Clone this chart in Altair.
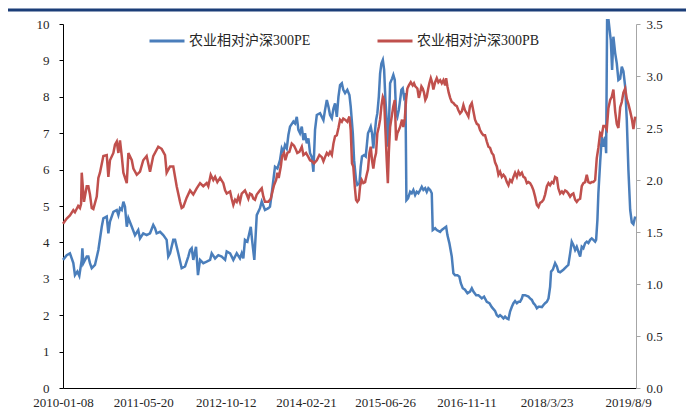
import altair as alt
import pandas as pd

PE_LABEL = "农业相对沪深300PE"
PB_LABEL = "农业相对沪深300PB"

pe_dates = [
    # 2010
    "2010-01-08", "2010-01-31", "2010-02-20", "2010-03-03", "2010-03-13", "2010-03-23", "2010-04-07",
    "2010-04-19", "2010-05-04", "2010-05-08", "2010-05-14", "2010-06-04", "2010-06-14", "2010-06-24",
    "2010-07-05", "2010-07-25", "2010-08-15", "2010-09-05", "2010-09-15", "2010-10-06", "2010-10-16",
    "2010-10-26", "2010-11-16", "2010-12-07", "2010-12-17", "2010-12-27",
    # 2011
    "2011-01-07", "2011-01-17", "2011-01-27", "2011-02-07", "2011-02-17", "2011-03-10", "2011-03-30",
    "2011-04-19", "2011-04-30", "2011-05-20", "2011-06-10", "2011-07-01", "2011-07-21", "2011-08-01",
    "2011-08-11", "2011-09-01", "2011-09-21", "2011-10-12", "2011-10-22", "2011-11-02", "2011-11-22",
    "2011-12-03", "2011-12-23",
    # 2012
    "2012-01-13", "2012-02-03", "2012-02-23", "2012-03-05", "2012-03-15", "2012-03-25", "2012-04-11",
    "2012-04-23", "2012-05-06", "2012-05-26", "2012-06-16", "2012-07-07", "2012-07-17", "2012-08-07",
    "2012-08-27", "2012-09-17", "2012-10-08", "2012-10-18", "2012-11-08", "2012-11-28", "2012-12-19",
    # 2013
    "2013-01-08", "2013-01-19", "2013-01-29", "2013-02-08", "2013-02-23", "2013-03-07", "2013-03-16",
    "2013-03-24", "2013-04-07", "2013-04-22", "2013-05-12", "2013-05-23", "2013-06-12", "2013-07-03",
    "2013-07-13", "2013-07-24", "2013-08-13", "2013-08-28", "2013-09-13", "2013-09-24", "2013-10-04",
    "2013-10-14", "2013-10-25", "2013-11-04", "2013-11-14", "2013-12-05", "2013-12-15", "2013-12-26",
    # 2014
    "2014-01-05", "2014-01-15", "2014-01-26", "2014-02-05", "2014-02-15", "2014-02-26", "2014-03-08",
    "2014-03-18", "2014-03-29", "2014-04-08", "2014-04-18", "2014-04-29", "2014-05-19", "2014-06-09",
    "2014-06-19", "2014-06-30", "2014-07-10", "2014-07-20", "2014-07-31", "2014-08-10", "2014-08-20",
    "2014-08-31", "2014-09-10", "2014-09-20", "2014-10-01", "2014-10-10", "2014-10-21", "2014-11-04",
    "2014-11-17", "2014-11-25", "2014-12-08", "2014-12-16", "2014-12-28",
    # 2015
    "2015-01-05", "2015-01-18", "2015-01-26", "2015-02-03", "2015-02-16", "2015-02-26", "2015-03-04",
    "2015-03-12", "2015-03-21", "2015-03-29", "2015-04-06", "2015-04-14", "2015-04-23", "2015-05-01",
    "2015-05-09", "2015-05-18", "2015-05-26", "2015-06-03", "2015-06-12", "2015-06-20", "2015-06-28",
    "2015-07-06", "2015-07-13", "2015-07-19", "2015-07-27", "2015-08-08", "2015-08-16", "2015-08-25",
    "2015-09-02", "2015-09-10", "2015-09-19", "2015-09-27", "2015-10-05", "2015-10-13", "2015-10-21",
    "2015-10-30", "2015-11-05", "2015-11-15", "2015-11-28", "2015-12-08", "2015-12-18", "2015-12-29",
    # 2016
    "2016-01-08", "2016-01-18", "2016-01-29", "2016-02-08", "2016-02-18", "2016-02-29", "2016-03-10",
    "2016-03-20", "2016-03-31", "2016-04-10", "2016-04-16", "2016-05-01", "2016-05-11", "2016-06-01",
    "2016-06-11", "2016-06-25", "2016-07-08", "2016-07-16", "2016-07-28", "2016-08-12", "2016-08-22",
    "2016-09-01", "2016-09-16", "2016-09-28", "2016-10-07", "2016-10-19", "2016-11-02", "2016-11-17",
    "2016-12-03", "2016-12-14", "2016-12-24",
    # 2017
    "2017-01-10", "2017-01-24", "2017-02-14", "2017-02-28", "2017-03-17", "2017-04-02", "2017-04-17",
    "2017-05-07", "2017-05-18", "2017-05-28", "2017-06-07", "2017-06-18", "2017-06-28", "2017-07-08",
    "2017-07-19", "2017-07-29", "2017-08-08", "2017-08-19", "2017-08-29", "2017-09-08", "2017-09-19",
    "2017-09-29", "2017-10-09", "2017-10-20", "2017-10-26", "2017-11-09", "2017-11-30", "2017-12-10",
    "2017-12-21", "2017-12-31",
    # 2018
    "2018-01-10", "2018-01-21", "2018-01-31", "2018-02-10", "2018-02-21", "2018-03-03", "2018-03-13",
    "2018-03-24", "2018-04-03", "2018-04-13", "2018-04-19", "2018-04-30", "2018-05-14", "2018-05-25",
    "2018-06-03", "2018-06-14", "2018-07-04", "2018-07-25", "2018-08-04", "2018-08-15", "2018-08-25",
    "2018-09-04", "2018-09-15", "2018-09-25", "2018-10-05", "2018-10-16", "2018-10-26", "2018-11-05",
    "2018-11-16", "2018-11-26", "2018-12-06", "2018-12-17", "2018-12-27",
    # 2019
    "2019-01-06", "2019-01-17", "2019-01-23", "2019-01-31", "2019-02-06", "2019-02-17", "2019-02-27",
    "2019-03-09", "2019-03-20", "2019-03-26", "2019-04-01", "2019-04-10", "2019-04-20", "2019-04-24",
    "2019-05-02", "2019-05-10", "2019-05-21", "2019-05-31", "2019-06-10", "2019-06-21", "2019-07-01",
    "2019-07-11", "2019-07-22", "2019-08-01", "2019-08-11", "2019-08-22", "2019-09-01", "2019-09-11",
    "2019-09-22",
]

pe_values = [
    # 2010
    3.52, 3.65, 3.70, 3.56, 3.43, 3.10, 3.20, 3.08, 3.52, 3.84, 3.43, 3.61, 3.61, 3.43, 3.29, 3.38,
    3.79, 4.43, 4.66, 4.71, 4.25, 4.57, 4.84, 4.89, 4.75, 4.94,
    # 2011
    4.89, 5.12, 4.98, 4.43, 4.67, 4.43, 4.20, 4.34, 4.11, 4.25, 4.20, 4.25, 4.48, 4.39, 4.25, 4.29,
    4.20, 4.07, 3.61, 3.70, 4.07, 4.07, 3.70,
    # 2012
    3.29, 3.34, 3.61, 3.79, 3.84, 3.52, 3.88, 3.10, 3.52, 3.43, 3.47, 3.52, 3.70, 3.56, 3.65, 3.61,
    3.52, 3.75, 3.70, 3.52, 3.70,
    # 2013
    3.56, 3.70, 3.56, 4.07, 4.02, 4.25, 4.43, 4.07, 3.52, 4.75, 4.94, 5.12, 4.89, 4.94, 4.98, 5.35,
    6.08, 6.03, 6.26, 6.58, 6.49, 6.68, 6.58, 6.95, 7.18, 7.32, 7.27, 7.45,
    # 2014
    7.09, 7.00, 7.18, 6.81, 7.00, 6.72, 6.86, 6.45, 6.35, 5.94, 7.09, 7.50, 7.55, 7.36, 7.64, 7.91,
    7.73, 7.50, 7.41, 7.68, 7.82, 7.45, 8.00, 8.32, 8.37, 8.19, 8.10, 8.19, 8.05, 7.73, 7.00, 6.26,
    5.71,
    # 2015
    5.58, 5.62, 6.08, 6.36, 6.40, 6.36, 6.63, 7.00, 7.09, 7.18, 7.00, 6.58, 7.00, 7.36, 7.55, 8.00,
    8.64, 8.91, 9.01, 8.74, 7.91, 7.36, 6.63, 7.09, 8.37, 8.50, 8.60, 8.46, 7.55, 7.45, 7.64, 7.91,
    8.19, 8.23, 8.00, 8.10, 5.16, 5.21, 5.39, 5.35, 5.44, 5.30,
    # 2016
    5.39, 5.35, 5.44, 5.53, 5.44, 5.49, 5.39, 5.49, 5.44, 5.35, 4.34, 4.39, 4.34, 4.29, 4.34, 4.39,
    4.43, 4.20, 3.98, 3.61, 3.15, 3.10, 3.10, 3.06, 2.88, 2.74, 2.70, 2.60, 2.65, 2.74, 2.65,
    # 2017
    2.55, 2.55, 2.46, 2.51, 2.37, 2.33, 2.22, 2.12, 2.00, 1.96, 2.00, 1.96, 1.91, 1.96, 1.91, 1.89,
    2.10, 2.23, 2.33, 2.39, 2.33, 2.37, 2.37, 2.46, 2.55, 2.55, 2.51, 2.46, 2.42, 2.33,
    # 2018
    2.28, 2.19, 2.23, 2.23, 2.22, 2.28, 2.33, 2.37, 2.46, 2.78, 3.20, 3.25, 3.43, 3.34, 3.20, 3.18,
    3.25, 3.34, 3.38, 3.70, 4.02, 3.93, 3.79, 3.88, 3.75, 3.61, 3.88, 3.84, 3.98, 4.02, 3.98, 4.07,
    4.11,
    # 2019
    4.07, 4.02, 4.07, 4.62, 5.35, 6.20, 6.90, 6.63, 6.90, 6.45, 10.10, 10.10, 9.70, 9.56, 8.74, 9.65,
    9.20, 8.92, 8.46, 8.50, 8.83, 8.70, 8.28, 7.36, 5.99, 4.89, 4.55, 4.50, 4.71,
]

pb_dates = [
    # 2010
    "2010-01-08", "2010-01-31", "2010-02-20", "2010-03-13", "2010-03-23", "2010-04-12", "2010-04-23",
    "2010-04-30", "2010-05-04", "2010-05-14", "2010-05-18", "2010-06-04", "2010-06-14", "2010-06-24",
    "2010-07-05", "2010-07-15", "2010-08-05", "2010-08-15", "2010-08-25", "2010-09-15", "2010-10-06",
    "2010-10-16", "2010-10-26", "2010-11-16", "2010-11-26", "2010-12-07", "2010-12-17", "2010-12-27",
    # 2011
    "2011-01-07", "2011-01-17", "2011-02-07", "2011-02-17", "2011-03-10", "2011-03-20", "2011-04-10",
    "2011-04-30", "2011-05-20", "2011-06-10", "2011-07-01", "2011-07-21", "2011-08-21", "2011-09-11",
    "2011-10-02", "2011-10-12", "2011-11-02", "2011-11-22", "2011-12-13",
    # 2012
    "2012-01-03", "2012-01-13", "2012-01-23", "2012-02-13", "2012-03-05", "2012-03-25", "2012-04-15",
    "2012-05-06", "2012-05-26", "2012-06-16", "2012-06-26", "2012-07-11", "2012-07-27", "2012-08-07",
    "2012-08-21", "2012-09-07", "2012-09-27", "2012-10-08", "2012-10-18", "2012-11-08", "2012-11-18",
    "2012-11-28", "2012-12-09", "2012-12-19", "2012-12-29",
    # 2013
    "2013-01-08", "2013-01-19", "2013-02-08", "2013-02-19", "2013-03-01", "2013-03-11", "2013-03-22",
    "2013-04-01", "2013-04-11", "2013-04-22", "2013-05-12", "2013-05-23", "2013-06-02", "2013-06-12",
    "2013-07-03", "2013-07-18", "2013-07-30", "2013-08-07", "2013-08-20", "2013-08-28", "2013-09-05",
    "2013-09-18", "2013-09-26", "2013-10-08", "2013-10-16", "2013-10-29", "2013-11-10", "2013-11-25",
    "2013-12-09", "2013-12-21", "2013-12-29",
    # 2014
    "2014-01-11", "2014-01-26", "2014-02-05", "2014-02-21", "2014-03-08", "2014-03-18", "2014-03-31",
    "2014-04-12", "2014-04-29", "2014-05-15", "2014-05-30", "2014-06-09", "2014-06-19", "2014-06-30",
    "2014-07-10", "2014-07-20", "2014-07-31", "2014-08-10", "2014-08-20", "2014-08-31", "2014-09-10",
    "2014-09-20", "2014-10-01", "2014-10-10", "2014-10-21", "2014-11-04", "2014-11-17", "2014-11-25",
    "2014-12-03", "2014-12-11", "2014-12-20", "2014-12-28",
    # 2015
    "2015-01-05", "2015-01-14", "2015-01-22", "2015-02-01", "2015-02-11", "2015-02-22", "2015-03-04",
    "2015-03-12", "2015-03-21", "2015-03-29", "2015-04-06", "2015-04-14", "2015-04-23", "2015-05-01",
    "2015-05-09", "2015-05-18", "2015-05-26", "2015-06-03", "2015-06-12", "2015-06-20", "2015-06-28",
    "2015-07-06", "2015-07-13", "2015-07-19", "2015-07-27", "2015-08-06", "2015-08-16", "2015-08-25",
    "2015-09-02", "2015-09-10", "2015-09-19", "2015-09-27", "2015-10-09", "2015-10-17", "2015-10-26",
    "2015-11-03", "2015-11-11", "2015-11-20", "2015-12-02", "2015-12-14", "2015-12-22", "2015-12-30",
    # 2016
    "2016-01-12", "2016-01-21", "2016-01-29", "2016-02-06", "2016-02-14", "2016-02-22", "2016-03-01",
    "2016-03-10", "2016-03-18", "2016-03-26", "2016-04-04", "2016-04-12", "2016-04-20", "2016-05-01",
    "2016-05-11", "2016-05-21", "2016-06-01", "2016-06-11", "2016-06-21", "2016-07-02", "2016-07-08",
    "2016-07-16", "2016-07-24", "2016-08-02", "2016-08-12", "2016-08-22", "2016-09-01", "2016-09-12",
    "2016-09-22", "2016-10-02", "2016-10-13", "2016-10-23", "2016-11-02", "2016-11-13", "2016-11-23",
    "2016-12-03", "2016-12-14", "2016-12-24",
    # 2017
    "2017-01-03", "2017-01-14", "2017-01-24", "2017-02-03", "2017-02-14", "2017-02-24", "2017-03-06",
    "2017-03-17", "2017-03-27", "2017-04-06", "2017-04-17", "2017-04-27", "2017-05-07", "2017-05-18",
    "2017-05-28", "2017-06-07", "2017-06-18", "2017-06-28", "2017-07-08", "2017-07-19", "2017-07-29",
    "2017-08-08", "2017-08-19", "2017-08-29", "2017-09-08", "2017-09-19", "2017-09-29", "2017-10-09",
    "2017-10-20", "2017-10-30", "2017-11-09", "2017-11-20", "2017-11-30", "2017-12-10", "2017-12-21",
    "2017-12-31",
    # 2018
    "2018-01-10", "2018-01-21", "2018-01-31", "2018-02-10", "2018-02-21", "2018-03-03", "2018-03-13",
    "2018-03-24", "2018-04-03", "2018-04-13", "2018-04-24", "2018-05-03", "2018-05-14", "2018-05-25",
    "2018-06-03", "2018-06-14", "2018-06-25", "2018-07-04", "2018-07-15", "2018-07-25", "2018-08-04",
    "2018-08-15", "2018-08-25", "2018-09-04", "2018-09-15", "2018-09-25", "2018-10-05", "2018-10-16",
    "2018-10-26", "2018-11-05", "2018-11-16", "2018-11-26", "2018-12-06", "2018-12-17", "2018-12-27",
    # 2019
    "2019-01-06", "2019-01-17", "2019-01-27", "2019-02-06", "2019-02-17", "2019-02-27", "2019-03-09",
    "2019-03-20", "2019-03-30", "2019-04-09", "2019-04-20", "2019-04-30", "2019-05-10", "2019-05-21",
    "2019-05-31", "2019-06-10", "2019-06-21", "2019-07-01", "2019-07-11", "2019-07-22", "2019-08-01",
    "2019-08-11", "2019-08-22", "2019-09-01", "2019-09-11", "2019-09-22",
]

pb_values = [
    # 2010
    1.58, 1.63, 1.66, 1.71, 1.69, 1.75, 1.73, 1.77, 2.07, 1.87, 1.79, 1.94, 1.94, 1.86, 1.73, 1.72,
    1.84, 2.02, 2.07, 2.23, 2.24, 2.03, 2.19, 2.26, 2.34, 2.37, 2.26, 2.38,
    # 2011
    2.23, 2.07, 1.97, 2.26, 2.19, 2.11, 2.05, 2.08, 2.19, 2.23, 2.08, 2.23, 2.32, 2.30, 2.24, 2.07,
    2.13, 2.13, 1.94,
    # 2012
    1.79, 1.73, 1.74, 1.83, 1.90, 1.86, 1.92, 1.97, 1.94, 1.97, 1.94, 2.05, 2.00, 2.03, 1.98, 2.02,
    1.97, 1.90, 1.87, 1.89, 1.82, 1.76, 1.81, 1.79, 1.84,
    # 2013
    1.79, 1.87, 1.90, 1.86, 1.82, 1.87, 1.86, 1.82, 1.81, 1.86, 1.90, 1.92, 1.84, 1.79, 1.79, 1.82,
    1.90, 1.95, 2.00, 2.07, 2.02, 2.13, 2.23, 2.26, 2.19, 2.26, 2.27, 2.35, 2.33, 2.29, 2.26,
    # 2014
    2.27, 2.32, 2.24, 2.26, 2.22, 2.19, 2.18, 2.16, 2.19, 2.24, 2.22, 2.18, 2.22, 2.26, 2.24, 2.27,
    2.24, 2.35, 2.42, 2.43, 2.50, 2.58, 2.56, 2.59, 2.58, 2.56, 2.61, 2.48, 2.16, 2.13, 1.94, 1.81,
    # 2015
    1.79, 1.81, 1.94, 2.00, 1.97, 1.98, 2.05, 2.10, 2.26, 2.32, 2.19, 2.11, 2.21, 2.26, 2.45, 2.51,
    2.58, 2.71, 2.80, 2.77, 2.48, 2.19, 1.97, 2.26, 2.51, 2.61, 2.71, 2.77, 2.38, 2.45, 2.48, 2.51,
    2.58, 2.51, 2.59, 2.77, 2.88, 2.91, 2.94, 2.91, 2.93, 2.90,
    # 2016
    2.88, 2.79, 2.84, 2.90, 2.88, 2.84, 2.77, 2.80, 2.87, 2.93, 2.98, 2.94, 2.87, 2.94, 2.98, 2.94,
    2.96, 2.93, 2.96, 2.91, 2.98, 2.90, 2.84, 2.79, 2.75, 2.74, 2.72, 2.71, 2.67, 2.64, 2.66, 2.72,
    2.67, 2.64, 2.61, 2.71, 2.74, 2.66,
    # 2017
    2.58, 2.54, 2.53, 2.48, 2.45, 2.43, 2.43, 2.37, 2.32, 2.31, 2.26, 2.24, 2.17, 2.13, 2.05, 2.08,
    2.03, 2.05, 2.03, 1.98, 1.95, 2.00, 1.98, 2.03, 2.07, 2.03, 2.08, 2.05, 2.07, 2.03, 2.02, 1.97,
    1.98, 1.97, 1.94, 1.90,
    # 2018
    1.84, 1.76, 1.74, 1.78, 1.79, 1.81, 1.86, 1.94, 1.97, 1.95, 1.98, 1.97, 2.03, 2.02, 1.92, 1.87,
    1.89, 1.87, 1.90, 1.89, 1.87, 1.84, 1.86, 1.87, 1.81, 1.79, 1.81, 1.82, 1.94, 1.97, 1.98, 2.05,
    1.98, 1.97, 1.98,
    # 2019
    1.98, 2.00, 2.21, 2.31, 2.45, 2.43, 2.52, 2.52, 2.49, 2.69, 2.77, 2.80, 2.87, 2.66, 2.54, 2.50,
    2.70, 2.75, 2.84, 2.88, 2.78, 2.73, 2.66, 2.59, 2.49, 2.61,
]

x_label_dates = [(2010, 1, 8), (2011, 5, 20), (2012, 10, 12), (2014, 2, 21),
                 (2015, 6, 26), (2016, 11, 11), (2018, 3, 23), (2019, 8, 9)]
left_ticks = [0, 1, 2, 3, 4, 5, 6, 7, 8, 9, 10]
right_ticks = [0.0, 0.5, 1.0, 1.5, 2.0, 2.5, 3.0, 3.5]

assert len(pe_dates) == len(pe_values)
assert len(pb_dates) == len(pb_values)

BLUE = "#4a7ebb"
RED = "#c0504d"
SERIF = "Liberation Serif, Noto Sans CJK SC"
TXT = "#262626"

pe_df = pd.DataFrame({"date": pe_dates, "value": pe_values, "series": PE_LABEL})
pb_df = pd.DataFrame({"date": pb_dates, "value": pb_values, "series": PB_LABEL})


def dt(y, m, d):
    return alt.DateTime(year=y, month=m, date=d, utc=True)


x_scale = alt.Scale(domain=[dt(2010, 1, 8), dt(2019, 9, 27)])
color_scale = alt.Scale(domain=[PE_LABEL, PB_LABEL], range=[BLUE, RED])

x_enc = alt.X(
    "date:T",
    scale=x_scale,
    axis=alt.Axis(
        values=[dt(*d) for d in x_label_dates],
        labelExpr="utcyear(datum.value) >= 2018 ? utcFormat(datum.value, '%Y/%-m/%-d') : utcFormat(datum.value, '%Y-%m-%d')",
        title=None, grid=False, ticks=False,
        domainColor="#000000", domainWidth=1,
        labelFont=SERIF, labelFontSize=13, labelColor=TXT,
        labelPadding=8, labelAngle=0, labelOverlap=False, labelFlush=False,
    ),
)

legend = alt.Legend(
    orient="none", legendX=85, legendY=-2, direction="horizontal", title=None,
    symbolType="stroke", symbolSize=1225, symbolStrokeWidth=3,
    labelFont=SERIF, labelFontSize=14, labelColor=TXT,
    columnPadding=60, labelOffset=3, padding=0,
)

color_enc = alt.Color("series:N", scale=color_scale, legend=legend)

pe_line = alt.Chart(pe_df).mark_line(strokeWidth=2.5).encode(
    x=x_enc,
    y=alt.Y(
        "value:Q",
        scale=alt.Scale(domain=[0, 10], nice=False),
        axis=alt.Axis(
            orient="left", values=left_ticks, title=None, grid=False,
            domainColor="#000000", tickColor="#000000", tickSize=4,
            labelFont=SERIF, labelFontSize=13, labelColor=TXT, labelPadding=10,
        ),
    ),
    color=color_enc,
)

pb_line = alt.Chart(pb_df).mark_line(strokeWidth=2.5).encode(
    x=x_enc,
    y=alt.Y(
        "value:Q",
        scale=alt.Scale(domain=[0, 3.5], nice=False),
        axis=alt.Axis(
            orient="right", values=right_ticks, format=".1f", title=None, grid=False,
            domainColor="#a6a6a6", tickColor="#a6a6a6", tickSize=4,
            labelFont=SERIF, labelFontSize=13, labelColor=TXT, labelPadding=6,
        ),
    ),
    color=color_enc,
)

top_bar = alt.Chart(pd.DataFrame({"k": [0]})).mark_rule(
    color="#1b3d78", strokeWidth=3
).encode(x=alt.value(-55), x2=alt.value(623), y=alt.value(-14))

chart = (
    alt.layer(pe_line, pb_line, top_bar)
    .resolve_scale(y="independent")
    .properties(
        width=573, height=364,
        padding={"left": 55, "top": 16, "right": 50, "bottom": 27},
        autosize=alt.AutoSizeParams(type="none"),
        background="white",
    )
    .configure_view(stroke=None)
)

chart.save("out.html", embed_options={"renderer": "svg", "actions": False})
